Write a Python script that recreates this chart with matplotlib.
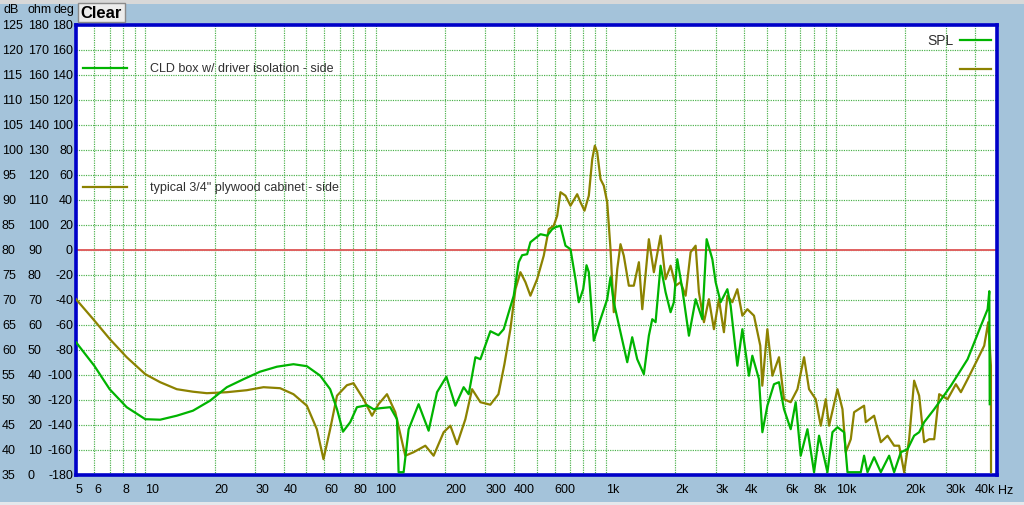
import numpy as np
import matplotlib.pyplot as plt
import matplotlib.transforms as mtransforms
from matplotlib.patches import Rectangle

plt.rcParams['font.family'] = ['Liberation Sans', 'DejaVu Sans']

# CLD box w/ driver isolation - side (green)
cld_freq = [5.0, 6.0, 7.0, 8.3, 10, 11.6, 13.7, 16.1, 19.1, 22.6, 26.7, 31.5, 37.3, 44.0,
            50.3, 57.5, 63.5, 68.0, 72.2, 77.6, 83.0, 91.8, 98.0, 104.8, 115.8, 123.9,
            125.9, 132.4, 139.2, 153.8, 170.0, 184.9, 203.0, 222.1, 241.3, 253.8, 271.4,
            285.3, 315.3, 341.7, 360.2, 398.1, 418.5, 433.0, 455.3, 470.5, 520.2, 556.3,
            584.9, 604.5, 635.5, 668.1, 702.4, 738.5, 763.2, 797.5, 824.4, 843.6, 886.8,
            948.4, 1014, 1048, 1083, 1158, 1239, 1302, 1369, 1463, 1538, 1591, 1645, 1729,
            1818, 1911, 1975, 2044, 2149, 2296, 2455, 2625, 2741, 2902, 2999, 3153, 3372,
            3484, 3726, 3918, 4184, 4329, 4626, 4786, 5031, 5376, 5651, 5941, 6353, 6679,
            7022, 7510, 8024, 8436, 9176, 9646, 10140, 10835, 11210, 12805, 13234, 13693,
            14630, 15643, 17003, 17874, 19110, 20437, 21833, 22956, 24134, 26683, 31531,
            37265, 42573, 45527, 46300, 46500]
cld_db = [61.5, 56.8, 52.1, 48.5, 46.1, 46.0, 46.8, 47.8, 49.8, 52.5, 54.1, 55.6, 56.6, 57.1,
          56.7, 54.8, 52.1, 48.1, 43.6, 45.5, 48.5, 48.9, 48.1, 48.3, 48.5, 46.1,
          35.5, 35.5, 44.1, 49.1, 43.8, 51.5, 54.6, 48.8, 52.5, 51.1, 58.5,
          58.1, 63.7, 62.9, 64.1, 70.8, 77.5, 78.9, 79.1, 81.5, 83.1, 82.8,
          84.1, 84.5, 84.8, 80.8, 80.1, 74.1, 69.5, 72.1, 76.9, 75.5, 61.8,
          66.1, 70.1, 74.5, 69.5, 63.5, 57.5, 62.5, 58.1, 55.1, 62.8, 66.1, 65.5, 76.8,
          71.5, 67.5, 69.5, 78.1, 72.1, 62.8, 70.1, 66.1, 82.1, 78.1, 73.5, 69.5, 72.1,
          68.8, 56.8, 64.1, 54.8, 58.8, 54.1, 43.5, 48.8, 53.1, 53.5, 48.1, 44.1, 49.5,
          38.8, 44.1, 35.5, 42.8, 35.5, 43.5, 44.5, 43.5, 35.5, 35.5, 38.8, 35.5,
          38.5, 35.5, 38.8, 35.5, 39.5, 40.1, 42.8, 43.5, 45.5, 48.1, 52.8,
          58.1, 64.8, 68.1, 71.7, 49.1]

# typical 3/4" plywood cabinet - side (olive)
ply_freq = [5.0, 5.94, 7.02, 8.3, 10, 11.6, 13.7, 16.1, 18.5, 22.6, 27.6, 32.6, 38.5, 44.0,
            50.3, 55.6, 59.4, 63.5, 68.0, 75.1, 80.2, 88.7, 96.5, 103.0, 112.1, 121.8,
            134.6, 146.3, 164.5, 178.7, 197.6, 211.3, 225.9, 245.5, 262.5, 285.3, 315.0,
            341.7, 362.8, 385.1, 405.0, 425.7, 447.7, 470.5, 503.1, 537.6, 565.3, 594.1,
            614.9, 635.5, 668.1, 702.4, 751.0, 776.2, 808.0, 843.6, 872.9, 895.9, 917.6,
            948.4, 980.2, 1014, 1048, 1083, 1121, 1158, 1197, 1259, 1323, 1392, 1440, 1538,
            1617, 1729, 1818, 1911, 2010, 2112, 2221, 2335, 2455, 2537, 2668, 2804, 2948,
            3099, 3258, 3372, 3545, 3726, 3918, 4118, 4401, 4687, 4782, 5031, 5290, 5651,
            5941, 6353, 6796, 7260, 7632, 8161, 8580, 9020, 9325, 10140, 10662, 11021,
            11587, 11976, 13234, 13461, 14630, 15643, 16732, 17874, 18790, 19757, 20771,
            21833, 22956, 24134, 25374, 26683, 28047, 30504, 33144, 34845, 37265, 41184,
            44000, 45800, 47050, 47100]
ply_db = [70.1, 66.1, 62.1, 58.5, 55.1, 53.5, 52.1, 51.6, 51.3, 51.5, 51.9, 52.5, 52.3, 51.1,
          48.8, 44.1, 38.1, 44.1, 50.8, 52.9, 53.3, 50.1, 46.8, 49.1, 51.1, 47.5,
          38.8, 39.5, 40.8, 38.8, 43.5, 44.8, 41.1, 46.1, 52.1, 49.5, 49.0,
          51.1, 57.1, 64.1, 72.1, 75.5, 73.5, 70.8, 74.1, 78.8, 84.1, 84.8,
          86.8, 91.5, 90.8, 88.8, 91.1, 89.5, 87.8, 90.8, 98.1, 100.8, 99.5,
          94.1, 92.8, 89.5, 80.1, 67.5, 76.1, 81.1, 78.8, 72.8, 72.8, 77.5, 68.1, 82.1,
          75.5, 82.8, 74.1, 76.8, 72.8, 73.5, 70.8, 79.5, 80.8, 71.5, 65.5, 70.1, 64.1,
          70.1, 63.5, 70.8, 69.5, 72.1, 66.8, 68.1, 66.8, 60.8, 52.8, 64.1, 54.8, 58.5,
          50.1, 49.5, 52.1, 58.5, 52.1, 50.1, 44.8, 50.1, 44.8, 52.1, 48.1, 39.5,
          42.1, 47.5, 48.8, 45.5, 46.8, 41.5, 42.8, 40.8, 40.8, 35.5, 42.1,
          53.8, 50.8, 41.5, 42.1, 42.1, 51.1, 50.1, 53.1, 51.5, 54.1, 58.1,
          60.8, 65.5, 56.8, 35.5]

x_labels = ['5', '6', '8', '10', '20', '30', '40', '60', '80', '100', '200', '300', '400',
            '600', '1k', '2k', '3k', '4k', '6k', '8k', '10k', '20k', '30k', '40k']
x_label_freq = [5, 6, 8, 10, 20, 30, 40, 60, 80, 100, 200, 300, 400,
                600, 1000, 2000, 3000, 4000, 6000, 8000, 10000, 20000, 30000, 40000]

db_ticks = list(range(35, 130, 5))
ohm_ticks = list(range(0, 190, 10))
deg_ticks = list(range(-180, 200, 20))

bg = '#a4c3da'
green = '#00b400'
olive = '#8c8200'

fig = plt.figure(figsize=(10.24, 5.06), dpi=100, facecolor=bg)
ax = fig.add_axes([76 / 1024, 30.3 / 506, 921 / 1024, 450 / 506])
ax.set_facecolor('white')

# window chrome
fig.patches.append(Rectangle((0, 1 - 5 / 506), 1, 5 / 506, transform=fig.transFigure,
                             facecolor='#d8d8d8', edgecolor='none', zorder=0))
fig.patches.append(Rectangle((0, 0), 1, 3 / 506, transform=fig.transFigure,
                             facecolor='#e4e8ec', edgecolor='none', zorder=0))
fig.patches.append(Rectangle((78 / 1024, 1 - 23 / 506), 47 / 1024, 19 / 506,
                             transform=fig.transFigure, facecolor='#ececec',
                             edgecolor='#8a8a8a', lw=1, zorder=1))
fig.text(101.5 / 1024, 1 - 13.5 / 506, 'Clear', ha='center', va='center',
         fontsize=12, fontweight='bold', color='black')

ax.set_xscale('log')
ax.set_xlim(5, 50000)
ax.set_ylim(35, 125)

grid_freq = [m * 10 ** e for e in range(0, 5) for m in range(1, 10)]
grid_freq = [f for f in grid_freq if 5 <= f <= 50000]
ax.set_xticks(grid_freq, minor=True)
ax.set_xticks(x_label_freq, x_labels)
for lab in ax.get_xticklabels():
    lab.set_horizontalalignment('left')
ax.tick_params(axis='x', which='both', length=0, pad=6, labelsize=9)
ax.set_yticks(db_ticks)
ax.tick_params(axis='y', which='both', length=0, labelleft=False)
ax.xaxis.set_minor_formatter(plt.NullFormatter())
ax.grid(which='both', color='#48b048', linestyle=(0, (1, 1)), linewidth=0.85)
ax.set_axisbelow(True)

for s in ax.spines.values():
    s.set_color('#0000c8')
    s.set_linewidth(2.6)

ax.axhline(80, color='#e06060', lw=1.4, zorder=2)

ax.plot(ply_freq, ply_db, color=olive, lw=1.6, zorder=3)
ax.plot(cld_freq, cld_db, color=green, lw=1.6, zorder=4)

# left-hand scale columns
tr = mtransforms.blended_transform_factory(fig.transFigure, ax.transData)
for d, o, g in zip(db_ticks, ohm_ticks, deg_ticks):
    fig.text(2 / 1024, d, str(d), transform=tr, ha='left', va='center', fontsize=9)
    fig.text(28 / 1024, d, str(o), transform=tr, ha='left', va='center', fontsize=9)
    fig.text(73 / 1024, d, str(g), transform=tr, ha='right', va='center', fontsize=9)
fig.text(3 / 1024, 1 - 10 / 506, 'dB', ha='left', va='center', fontsize=9)
fig.text(27 / 1024, 1 - 10 / 506, 'ohm', ha='left', va='center', fontsize=9)
fig.text(53 / 1024, 1 - 10 / 506, 'deg', ha='left', va='center', fontsize=9)
fig.text(998 / 1024, 1 - 491 / 506, 'Hz', ha='left', va='center', fontsize=9)


def px(x, y):
    return (x - 76) / 921, (475.7 - y) / 450


# legend entries
for (x0, x1, y), col in [((83, 127, 68.5), green), ((83, 127, 188), olive),
                         ((960, 991, 40.5), green), ((960, 991, 70), olive)]:
    a0, b0 = px(x0, y)
    a1, _ = px(x1, y)
    ax.plot([a0, a1], [b0, b0], color=col, lw=1.6, transform=ax.transAxes, zorder=5)
tx, ty = px(150, 68.5)
ax.text(tx, ty, 'CLD box w/ driver isolation - side', transform=ax.transAxes,
        ha='left', va='center', fontsize=9, color='#303030')
tx, ty = px(150, 188)
ax.text(tx, ty, 'typical 3/4" plywood cabinet - side', transform=ax.transAxes,
        ha='left', va='center', fontsize=9, color='#303030')
tx, ty = px(954, 40.5)
ax.text(tx, ty, 'SPL', transform=ax.transAxes, ha='right', va='center',
        fontsize=10, color='#303030')

plt.savefig('out.png', dpi=100, facecolor=bg)
